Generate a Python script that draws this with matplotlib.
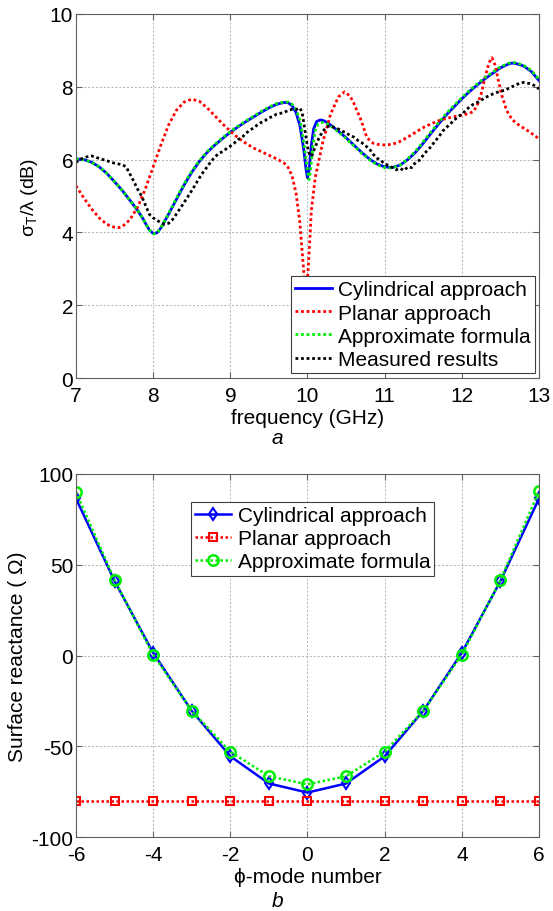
import matplotlib
matplotlib.use("Agg")
import matplotlib.pyplot as plt

plt.rcParams['font.family'] = ['Liberation Sans', 'DejaVu Sans']
plt.rcParams['mathtext.fontset'] = 'custom'
plt.rcParams['mathtext.rm'] = 'Liberation Sans'
plt.rcParams['mathtext.it'] = 'Liberation Sans:italic'
plt.rcParams['axes.unicode_minus'] = False

# ---------------- top panel data ----------------
cyl_f = [7.0, 7.1, 7.2, 7.3, 7.4, 7.5, 7.6, 7.7, 7.8, 7.87, 7.9, 7.95, 8.0, 8.05, 8.1, 8.2, 8.3, 8.4, 8.5,
         8.6, 8.7, 8.8, 8.9, 9.0, 9.1, 9.2, 9.3, 9.4, 9.5, 9.6, 9.7, 9.75, 9.8, 9.85, 9.9, 9.95, 9.98,
         10.0, 10.02, 10.05, 10.08, 10.12, 10.17, 10.22, 10.3, 10.4, 10.5, 10.6, 10.7, 10.8, 10.9, 11.0,
         11.1, 11.2, 11.3, 11.4, 11.5, 11.6, 11.7, 11.8, 11.9, 12.0, 12.1, 12.2, 12.3, 12.4, 12.5, 12.6,
         12.65, 12.7, 12.8, 12.9, 13.0]
cyl_v = [6.02, 6.0, 5.93, 5.8, 5.62, 5.39, 5.15, 4.88, 4.6, 4.37, 4.25, 4.07, 3.97, 3.99, 4.12, 4.5, 4.9, 5.3, 5.65,
         5.95, 6.2, 6.4, 6.58, 6.75, 6.9, 7.04, 7.17, 7.3, 7.42, 7.52, 7.57, 7.56, 7.48, 7.3, 6.95, 6.3, 5.75,
         5.5, 5.7, 6.4, 6.85, 7.05, 7.09, 7.06, 6.95, 6.78, 6.6, 6.4, 6.2, 6.02, 5.88, 5.8,
         5.78, 5.85, 6.0, 6.2, 6.45, 6.72, 6.98, 7.23, 7.45, 7.67, 7.87, 8.05, 8.22, 8.37, 8.52, 8.62,
         8.65, 8.64, 8.57, 8.42, 8.17]

apx_f = [7.0, 7.1, 7.2, 7.3, 7.4, 7.5, 7.6, 7.7, 7.8, 7.87, 7.9, 7.95, 8.0, 8.05, 8.1, 8.2, 8.3, 8.4, 8.5,
         8.6, 8.7, 8.8, 8.9, 9.0, 9.1, 9.2, 9.3, 9.4, 9.5, 9.6, 9.7, 9.75, 9.8, 9.85, 9.9, 9.95, 10.0,
         10.02, 10.04, 10.07, 10.1, 10.14, 10.19, 10.24, 10.3, 10.4, 10.5, 10.6, 10.7, 10.8, 10.9, 11.0,
         11.1, 11.2, 11.3, 11.4, 11.5, 11.6, 11.7, 11.8, 11.9, 12.0, 12.1, 12.2, 12.3, 12.4, 12.5, 12.6,
         12.65, 12.7, 12.8, 12.9, 13.0]
apx_v = [6.02, 6.0, 5.93, 5.8, 5.62, 5.39, 5.15, 4.88, 4.6, 4.37, 4.25, 4.07, 3.96, 3.99, 4.12, 4.52, 4.93, 5.33, 5.68,
         5.97, 6.22, 6.42, 6.6, 6.77, 6.92, 7.06, 7.19, 7.32, 7.44, 7.54, 7.58, 7.58, 7.52, 7.38, 7.1, 6.5, 5.7,
         5.45, 5.7, 6.4, 6.8, 6.98, 7.02, 7.0, 6.93, 6.76, 6.58, 6.38, 6.18, 6.0, 5.86, 5.78,
         5.77, 5.85, 6.02, 6.23, 6.49, 6.76, 7.02, 7.27, 7.49, 7.7, 7.9, 8.08, 8.25, 8.4, 8.55, 8.64,
         8.67, 8.66, 8.59, 8.45, 8.2]

pln_f = [7.0, 7.1, 7.2, 7.3, 7.4, 7.5, 7.55, 7.6, 7.7, 7.8, 7.9, 8.0, 8.1, 8.2, 8.3, 8.4, 8.5, 8.6, 8.7,
         8.8, 8.9, 9.0, 9.1, 9.2, 9.3, 9.4, 9.5, 9.6, 9.7, 9.75, 9.8, 9.85, 9.9, 9.93, 9.96, 9.98, 10.0,
         10.02, 10.05, 10.1, 10.15, 10.2, 10.3, 10.4, 10.48, 10.55, 10.6, 10.7, 10.77, 10.85, 10.9, 11.0,
         11.1, 11.2, 11.3, 11.4, 11.5, 11.6, 11.7, 11.8, 11.9, 12.0, 12.1, 12.15, 12.2, 12.25, 12.3, 12.35,
         12.39, 12.43, 12.47, 12.52, 12.58, 12.65, 12.75, 12.85, 12.95, 13.0]
pln_v = [5.28, 4.95, 4.65, 4.4, 4.22, 4.14, 4.13, 4.16, 4.35, 4.7, 5.2, 5.8, 6.4, 6.95, 7.35, 7.58, 7.66, 7.6, 7.42,
         7.2, 6.98, 6.78, 6.6, 6.45, 6.32, 6.22, 6.12, 6.02, 5.9, 5.78, 5.55, 5.1, 4.3, 3.5, 2.7, 2.5, 2.7,
         3.4, 4.6, 5.5, 6.0, 6.5, 7.25, 7.72, 7.86, 7.75, 7.55, 7.05, 6.6, 6.45, 6.42, 6.4,
         6.42, 6.5, 6.62, 6.75, 6.88, 6.98, 7.07, 7.13, 7.18, 7.22, 7.27, 7.32, 7.5, 7.8, 8.25, 8.65,
         8.8, 8.6, 8.2, 7.75, 7.35, 7.1, 6.93, 6.8, 6.65, 6.57]

mea_f = [7.0, 7.05, 7.1, 7.15, 7.2, 7.25, 7.3, 7.35, 7.4, 7.45, 7.5, 7.55, 7.6, 7.65, 7.7, 7.75, 7.8, 7.85,
         7.9, 7.95, 8.0, 8.05, 8.1, 8.15, 8.2, 8.25, 8.3, 8.35, 8.4, 8.45, 8.5, 8.55, 8.6, 8.65, 8.7, 8.75,
         8.8, 8.85, 8.9, 8.95, 9.0, 9.05, 9.1, 9.15, 9.2, 9.25, 9.3, 9.35, 9.4, 9.45, 9.5, 9.55, 9.6, 9.65,
         9.7, 9.75, 9.8, 9.85, 9.9, 9.93, 9.96, 10.0, 10.03, 10.06, 10.1, 10.15, 10.2, 10.25, 10.3, 10.35,
         10.4, 10.45, 10.5, 10.55, 10.6, 10.65, 10.7, 10.75, 10.8, 10.85, 10.9, 10.95, 11.0, 11.05, 11.1,
         11.15, 11.2, 11.25, 11.3, 11.35, 11.4, 11.45, 11.5, 11.55, 11.6, 11.65, 11.7, 11.75, 11.8, 11.85,
         11.9, 11.95, 12.0, 12.05, 12.1, 12.15, 12.2, 12.25, 12.3, 12.35, 12.4, 12.45, 12.5, 12.55, 12.6,
         12.65, 12.7, 12.75, 12.8, 12.85, 12.9, 12.95, 13.0]
mea_v = [5.92, 6.0, 6.05, 6.08, 6.1, 6.07, 6.03, 6.0, 5.97, 5.93, 5.9, 5.88, 5.86, 5.8, 5.6, 5.4, 5.18, 5.0,
         4.75, 4.5, 4.4, 4.33, 4.27, 4.22, 4.25, 4.35, 4.5, 4.66, 4.82, 4.98, 5.15, 5.32, 5.5, 5.66, 5.8, 5.95,
         6.07, 6.17, 6.22, 6.3, 6.37, 6.45, 6.55, 6.6, 6.72, 6.8, 6.87, 6.95, 7.02, 7.07, 7.15, 7.18, 7.25, 7.27,
         7.3, 7.35, 7.38, 7.37, 7.42, 7.3, 6.9, 6.35, 6.1, 6.12, 6.35, 6.6, 6.78, 6.9, 6.93, 6.88,
         6.84, 6.78, 6.74, 6.66, 6.62, 6.53, 6.47, 6.38, 6.3, 6.15, 6.04, 5.98, 5.88, 5.84, 5.78,
         5.72, 5.76, 5.7, 5.8, 5.78, 5.92, 5.98, 6.12, 6.25, 6.35, 6.5, 6.62, 6.78, 6.88, 6.98,
         7.08, 7.18, 7.24, 7.35, 7.45, 7.52, 7.57, 7.63, 7.7, 7.75, 7.8, 7.84, 7.88, 7.9, 7.95,
         8.0, 8.05, 8.1, 8.12, 8.1, 8.08, 8.02, 7.94]

top_labels = ['Cylindrical approach', 'Planar approach', 'Approximate formula', 'Measured results']

# ---------------- bottom panel data ----------------
modes = [-6, -5, -4, -3, -2, -1, 0, 1, 2, 3, 4, 5, 6]
x_cyl = [86.5, 41, 1.5, -30.5, -55.5, -70.5, -75.5, -70.5, -55.5, -30.5, 1.5, 41, 86.5]
x_pln = [-80, -80, -80, -80, -80, -80, -80, -80, -80, -80, -80, -80, -80]
x_apx = [90, 41.5, 0.5, -30.5, -53, -66.5, -71, -66.5, -53, -30.5, 0.5, 41.5, 90.5]
bottom_labels = ['Cylindrical approach', 'Planar approach', 'Approximate formula']

FS = 15
dot = (0, (1, 1))

fig = plt.figure(figsize=(5.53, 9.12), dpi=100)
ax1 = fig.add_axes([0.1374, 0.5844, 0.8373, 0.3992])
ax2 = fig.add_axes([0.1374, 0.0811, 0.8373, 0.3981])

def style(ax):
    ax.grid(True, color='#b0b0b0', linestyle=(0, (2, 2)), linewidth=0.7)
    ax.set_axisbelow(True)
    for s in ax.spines.values():
        s.set_color('#606060')
        s.set_linewidth(0.8)
    ax.tick_params(direction='in', top=True, right=True, labelsize=FS, length=4, color='#606060')
    ax.tick_params(axis='x', pad=6)
    ax.tick_params(axis='y', pad=2)

ax1.plot(cyl_f, cyl_v, color='#0000ff', lw=2, label=top_labels[0])
ax1.plot(pln_f, pln_v, color='#ff0000', lw=2, linestyle=dot, label=top_labels[1])
ax1.plot(apx_f, apx_v, color='#00ee00', lw=2, linestyle=dot, label=top_labels[2])
ax1.plot(mea_f, mea_v, color='#000000', lw=2, linestyle=dot, label=top_labels[3])
ax1.set_xlim(7, 13)
ax1.set_ylim(0, 10)
ax1.set_xticks([7, 8, 9, 10, 11, 12, 13])
ax1.set_yticks([0, 2, 4, 6, 8, 10])
style(ax1)
ax1.set_xlabel('frequency (GHz)', fontsize=FS, labelpad=2)
ax1.set_ylabel(r'$\mathregular{\sigma_T/\lambda}$ (dB)', fontsize=14, labelpad=7)
leg1 = ax1.legend(loc='lower right', bbox_to_anchor=(0.991, 0.0137), fontsize=FS, frameon=True,
                  fancybox=False, edgecolor='#404040', framealpha=1, borderaxespad=0,
                  handlelength=1.75, handletextpad=0.3, labelspacing=0.2, borderpad=0.2)
leg1.get_frame().set_linewidth(0.8)
fig.text(0.501, 0.5197, 'a', fontsize=FS, style='italic', ha='center', va='center')

ax2.plot(modes, x_cyl, color='#0000ff', lw=1.8, marker='d', ms=6, mfc='none', mew=1.5, label=bottom_labels[0])
ax2.plot(modes, x_pln, color='#ff0000', lw=1.8, linestyle=dot, marker='s', ms=6, mfc='none', mew=1.5,
         label=bottom_labels[1])
ax2.plot(modes, x_apx, color='#00ee00', lw=1.8, linestyle=dot, marker='o', ms=7.5, mfc='none', mew=1.8,
         label=bottom_labels[2])
ax2.set_xlim(-6, 6)
ax2.set_ylim(-100, 100)
ax2.set_xticks([-6, -4, -2, 0, 2, 4, 6])
ax2.set_yticks([-100, -50, 0, 50, 100])
style(ax2)
ax2.set_xlabel('ϕ-mode number', fontsize=FS, labelpad=2)
ax2.set_ylabel('Surface reactance ( Ω)', fontsize=FS, labelpad=3)
leg2 = ax2.legend(loc='upper left', bbox_to_anchor=(0.248, 0.923), fontsize=FS, frameon=True,
                  fancybox=False, edgecolor='#404040', framealpha=1, borderaxespad=0,
                  handlelength=1.75, handletextpad=0.3, labelspacing=0.2, borderpad=0.2)
leg2.get_frame().set_linewidth(0.8)
fig.text(0.501, 0.0115, 'b', fontsize=FS, style='italic', ha='center', va='center')

fig.savefig('out.png', dpi=100)
